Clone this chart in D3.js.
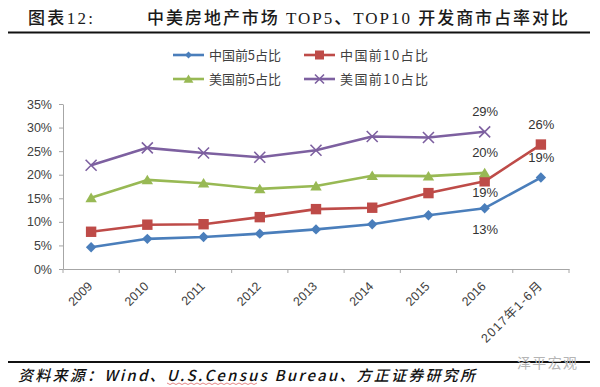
<!DOCTYPE html>
<html><head><meta charset="utf-8">
<script src="https://cdn.jsdelivr.net/npm/d3@7"></script>
<style>html,body{margin:0;padding:0;background:#fff;} svg{display:block}</style>
</head><body><svg id="c" width="600" height="387"></svg>
<script>
// ---- data ----
const categories = ["2009","2010","2011","2012","2013","2014","2015","2016","2017年1-6月"];
const chinaTop5  = [4.6, 6.4, 6.8, 7.5, 8.4, 9.5, 11.4, 12.9, 19.4];
const chinaTop10 = [7.9, 9.4, 9.5, 11.0, 12.7, 13.0, 16.1, 18.6, 26.4];
const usTop5     = [15.1, 18.9, 18.2, 17.0, 17.6, 19.8, 19.7, 20.4, null];
const usTop10    = [22.0, 25.7, 24.6, 23.7, 25.2, 28.1, 27.9, 29.1, null];
const seriesNames = ["中国前5占比", "中国前10占比", "美国前5占比", "美国前10占比"];
const yTicks = [0, 5, 10, 15, 20, 25, 30, 35];
const titleLabel = "图表12:";
const titleText = "中美房地产市场 TOP5、TOP10 开发商市占率对比";
const sourceText = "资料来源：Wind、U.S.Census Bureau、方正证券研究所";
const watermark = "泽平宏观";
// data labels: [series index, category index]
const dataLabels = [[3,7],[2,7],[1,7],[0,7],[1,8],[0,8]];

// ---- styles ----
const colors = ["#4A7EBB", "#BE4B48", "#98B954", "#7D60A0"];
const markers = ["diamond", "square", "triangle", "cross"];
const labelBelow = {"1-7": true, "0-7": true};

const svg = d3.select("#c");
const series = [chinaTop5, chinaTop10, usTop5, usTop10];

// title
svg.append("text").attr("x", 28).attr("y", 24)
  .attr("font-family", "'Liberation Serif','Noto Sans CJK SC'").attr("font-size", 17).attr("font-weight", 500)
  .attr("fill", "#1a1a1a").attr("textLength", 65).attr("lengthAdjust", "spacing")
  .text(titleLabel);
svg.append("text").attr("x", 147).attr("y", 24)
  .attr("font-family", "'Liberation Serif','Noto Sans CJK SC'").attr("font-size", 17).attr("font-weight", 500)
  .attr("fill", "#1a1a1a").attr("textLength", 421).attr("lengthAdjust", "spacing")
  .text(titleText);
svg.append("line").attr("x1", 8).attr("x2", 590).attr("y1", 32.5).attr("y2", 32.5)
  .attr("stroke", "#111").attr("stroke-width", 2.2);

// scales
const x = d3.scaleBand().domain(categories).range([63, 569]);
const cx = c => x(c) + x.bandwidth() / 2;
const y = d3.scaleLinear().domain([0, 35]).range([269, 104]);

// y axis
const ya = svg.append("g").attr("transform", "translate(63,0)")
  .call(d3.axisLeft(y).tickValues(yTicks).tickFormat(d => d + "%").tickSize(4).tickSizeOuter(0).tickPadding(7));
ya.select(".domain").attr("stroke", "#A6A6A6");
ya.selectAll(".tick line").attr("stroke", "#A6A6A6");
ya.selectAll("text").attr("font-family", "'Liberation Sans',Arial,sans-serif").attr("font-size", 12.5).attr("fill", "#404040");

// x axis
const xa = svg.append("g").attr("transform", "translate(0,269)")
  .call(d3.axisBottom(x).tickSize(0).tickSizeOuter(0).tickPadding(0));
xa.select(".domain").attr("stroke", "#A6A6A6");
xa.selectAll("text").attr("x", 0).attr("y", 0).attr("dy", 0)
  .attr("transform", "translate(2,18) rotate(-45)").style("text-anchor", "end")
  .attr("font-family", "'Liberation Sans','Noto Sans CJK SC',sans-serif").attr("font-size", 12.5).attr("fill", "#404040");
xa.selectAll("text").filter(d => d.length > 4).attr("textLength", 80).attr("lengthAdjust", "spacing");
const bounds = categories.map(c => x(c)).concat([x.range()[1]]);
svg.append("g").selectAll("line").data(bounds).join("line")
  .attr("x1", d => d).attr("x2", d => d).attr("y1", 269).attr("y2", 273)
  .attr("stroke", "#A6A6A6");

// marker drawing
function drawMarker(g, type, color, s) {
  if (type === "diamond") {
    g.append("path").attr("d", `M0,${-s}L${s},0L0,${s}L${-s},0Z`).attr("fill", color);
  } else if (type === "square") {
    g.append("rect").attr("x", -s).attr("y", -s).attr("width", 2*s).attr("height", 2*s).attr("fill", color);
  } else if (type === "triangle") {
    g.append("path").attr("d", `M0,${-s}L${s*1.1},${s*0.85}L${-s*1.1},${s*0.85}Z`).attr("fill", color);
  } else {
    g.append("path").attr("d", `M${-s},${-s}L${s},${s}M${-s},${s}L${s},${-s}`)
      .attr("stroke", color).attr("stroke-width", 1.6).attr("fill", "none");
  }
}

// lines
series.forEach((vals, i) => {
  const pts = vals.map((v, j) => ({v, c: categories[j]})).filter(d => d.v != null);
  const line = d3.line().x(d => cx(d.c)).y(d => y(d.v));
  svg.append("path").datum(pts).attr("d", line).attr("fill", "none")
    .attr("stroke", colors[i]).attr("stroke-width", 2.6).attr("stroke-linejoin", "round");
  const mg = svg.append("g");
  pts.forEach(d => {
    const g = mg.append("g").attr("transform", `translate(${cx(d.c)},${y(d.v)})`);
    drawMarker(g, markers[i], colors[i], markers[i] === "cross" ? 5.5 : 5.2);
  });
});

// data labels
dataLabels.forEach(([si, ci]) => {
  const v = series[si][ci];
  const below = labelBelow[si + "-" + ci];
  svg.append("text").attr("x", cx(categories[ci]) + 0.5)
    .attr("y", y(v) + (below ? (si === 1 ? 15.5 : 25.5) : -16))
    .attr("text-anchor", "middle")
    .attr("font-family", "'Liberation Sans',Arial,sans-serif").attr("font-size", 13)
    .attr("fill", "#333").text(Math.round(v) + "%");
});

// legend
const legendPos = [[173, 55], [304, 55], [173, 79], [304, 79]];
const legendTextW = [72, 88, 72, 88];
seriesNames.forEach((name, i) => {
  const [lx, ly] = legendPos[i];
  const g = svg.append("g");
  g.append("line").attr("x1", lx).attr("x2", lx + 31).attr("y1", ly).attr("y2", ly)
    .attr("stroke", colors[i]).attr("stroke-width", 2.6);
  const m = g.append("g").attr("transform", `translate(${lx + 15.5},${ly})`);
  drawMarker(m, markers[i], colors[i], i === 0 ? 3.5 : 4.5);
  g.append("text").attr("x", lx + 36).attr("y", ly + 4.5)
    .attr("font-family", "'Noto Sans CJK SC',sans-serif").attr("font-size", 13)
    .attr("fill", "#404040").attr("textLength", legendTextW[i]).attr("lengthAdjust", "spacing")
    .text(name);
});

// footer
svg.append("line").attr("x1", 8).attr("x2", 590).attr("y1", 362).attr("y2", 362)
  .attr("stroke", "#111").attr("stroke-width", 2);
svg.append("text").attr("x", 18).attr("y", 381)
  .attr("font-family", "'Noto Sans CJK SC',sans-serif").attr("font-size", 15).attr("font-weight", 500)
  .attr("font-style", "italic").attr("fill", "#111")
  .attr("textLength", 457).attr("lengthAdjust", "spacing").text(sourceText);
svg.append("path").attr("d", d3.range(167, 258, 3).map((px, k) => (k ? "L" : "M") + px + "," + (k % 2 ? 384.5 : 383)).join(""))
  .attr("stroke", "#d66").attr("stroke-width", 0.8).attr("fill", "none");
svg.append("text").attr("x", 517).attr("y", 368)
  .attr("font-family", "'Noto Sans CJK SC',sans-serif").attr("font-size", 14)
  .attr("fill", "#b5b5b5").attr("textLength", 60).attr("lengthAdjust", "spacing").text(watermark);
</script>
</body></html>
